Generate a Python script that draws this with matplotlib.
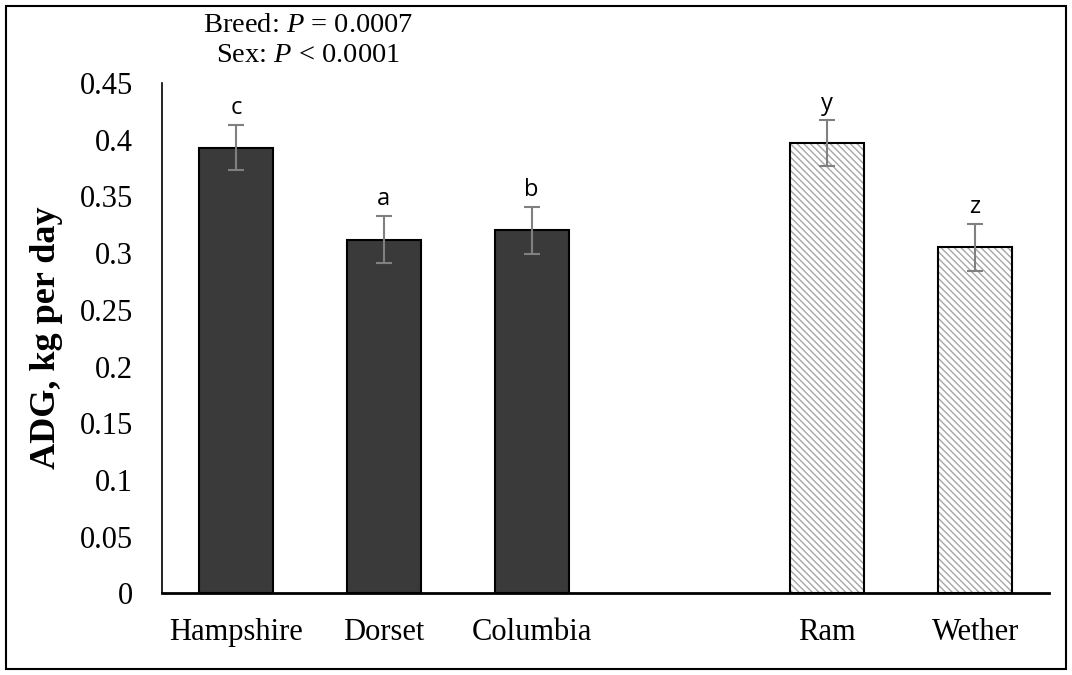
import matplotlib
matplotlib.use('Agg')
import matplotlib.pyplot as plt
import matplotlib.patches as mpatches
import numpy as np

categories = ['Hampshire', 'Dorset', 'Columbia', '', 'Ram', 'Wether']
breeds = ['Hampshire', 'Dorset', 'Columbia']
breed_adg = [0.393, 0.312, 0.320]
breed_err = [0.020, 0.021, 0.021]
breed_letters = ['c', 'a', 'b']
sexes = ['Ram', 'Wether']
sex_adg = [0.397, 0.305]
sex_err = [0.020, 0.021]
sex_letters = ['y', 'z']
yticks = [0, 0.05, 0.1, 0.15, 0.2, 0.25, 0.3, 0.35, 0.4, 0.45]
ytick_labels = ['0', '0.05', '0.1', '0.15', '0.2', '0.25', '0.3', '0.35', '0.4', '0.45']

plt.rcParams['font.family'] = 'Liberation Serif'
plt.rcParams['mathtext.fontset'] = 'custom'
plt.rcParams['mathtext.it'] = 'Liberation Serif:italic'
plt.rcParams['mathtext.rm'] = 'Liberation Serif'

fig = plt.figure(figsize=(10.72, 6.75), dpi=100)
ax = fig.add_axes([0.1511, 0.121, 0.8274, 0.756])

xb = np.array([categories.index(b) for b in breeds])
xs = np.array([categories.index(s) for s in sexes])
w = 0.5

ax.bar(xb, breed_adg, width=w, color='#3a3a3a', edgecolor='black', linewidth=1.5, zorder=2)
# hatched sex bars: hatch in gray, outline in black
ax.bar(xs, sex_adg, width=w, color='white', edgecolor='#a6a6a6', hatch='\\\\\\\\\\', linewidth=0, zorder=2)
ax.bar(xs, sex_adg, width=w, fill=False, edgecolor='black', linewidth=1.5, zorder=3)

ax.errorbar(xb, breed_adg, yerr=breed_err, fmt='none', ecolor='#808080', elinewidth=1.5, capsize=6, capthick=1.5, zorder=4)
ax.errorbar(xs, sex_adg, yerr=sex_err, fmt='none', ecolor='#808080', elinewidth=1.5, capsize=6, capthick=1.5, zorder=4)

for x, v, e, t in zip(xb, breed_adg, breed_err, breed_letters):
    ax.text(x, v + e + 0.004, t, ha='center', va='bottom', fontsize=17, family='Open Sans')
for x, v, e, t in zip(xs, sex_adg, sex_err, sex_letters):
    ax.text(x, v + e + 0.004, t, ha='center', va='bottom', fontsize=17, family='Open Sans')

ax.set_xlim(-0.5, 5.5)
ax.set_ylim(0, 0.45)
ax.set_yticks(yticks)
ax.set_yticklabels(ytick_labels)
ax.set_xticks(range(len(categories)))
ax.set_xticklabels(categories)
ax.tick_params(axis='y', length=0, pad=21, labelsize=22)
ax.tick_params(axis='x', length=0, pad=18, labelsize=22)
ax.spines['top'].set_visible(False)
ax.spines['right'].set_visible(False)
ax.spines['left'].set_linewidth(1.2)
ax.spines['bottom'].set_linewidth(2)
ax.set_ylabel('ADG, kg per day', fontsize=26, fontweight='bold', labelpad=12)

fig.text(0.287, 0.962, r'Breed: $P$ = 0.0007', ha='center', va='center', fontsize=20.5)
fig.text(0.287, 0.918, r'Sex: $P$ < 0.0001', ha='center', va='center', fontsize=20.5)

fig.patches.append(mpatches.Rectangle((0.006, 0.009), 0.988, 0.982, transform=fig.transFigure,
                                      fill=False, edgecolor='black', linewidth=1.5))

fig.savefig('out.png', dpi=100)
